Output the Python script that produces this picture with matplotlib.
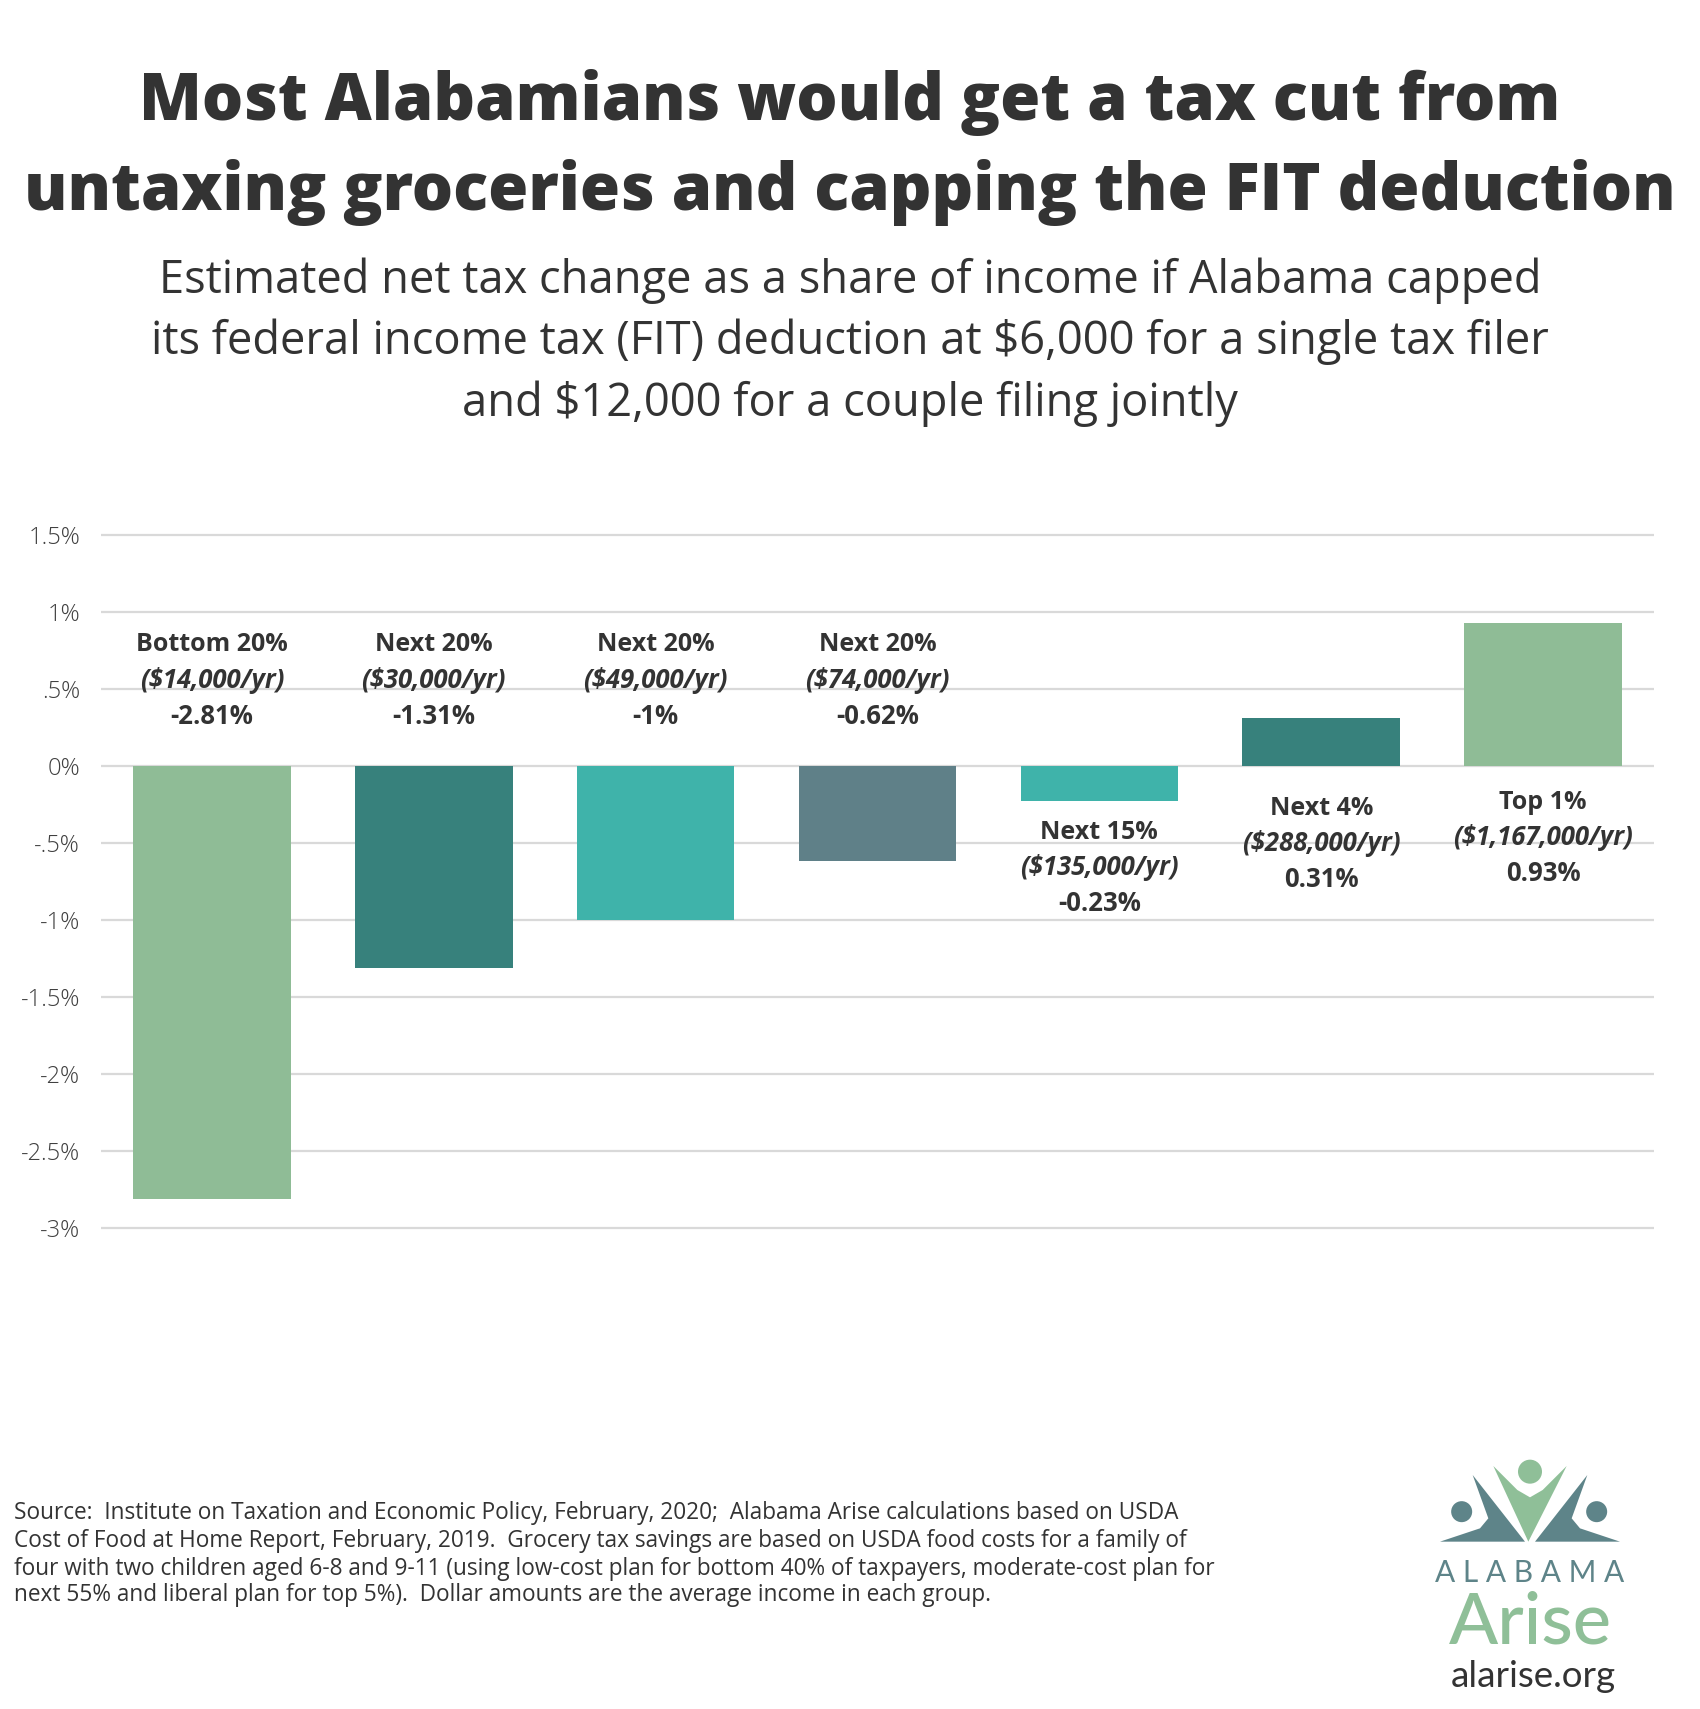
import numpy as np
import matplotlib.pyplot as plt
from matplotlib.patches import Polygon, Circle

plt.rcParams['font.family'] = ['Open Sans', 'DejaVu Sans']

# ---- data ----
groups = ["Bottom 20%", "Next 20%", "Next 20%", "Next 20%", "Next 15%", "Next 4%", "Top 1%"]
incomes = ["$14,000", "$30,000", "$49,000", "$74,000", "$135,000", "$288,000", "$1,167,000"]
values = [-2.81, -1.31, -1.0, -0.62, -0.23, 0.31, 0.93]
value_text = ["-2.81%", "-1.31%", "-1%", "-0.62%", "-0.23%", "0.31%", "0.93%"]
yticks = [1.5, 1.0, 0.5, 0.0, -0.5, -1.0, -1.5, -2.0, -2.5, -3.0]
ytick_labels = ["1.5%", "1%", ".5%", "0%", "-.5%", "-1%", "-1.5%", "-2%", "-2.5%", "-3%"]

# ---- style ----
LGREEN = "#8fbc96"
DTEAL = "#37817c"
TEAL = "#3fb3aa"
SLATE = "#5f8088"
bar_colors = [LGREEN, DTEAL, TEAL, SLATE, TEAL, DTEAL, LGREEN]
# y of first label line (data units) for each bar
label_y = [0.786, 0.786, 0.786, 0.786, -0.429, -0.273, -0.234]
LINE_STEP = 0.232
TXT = "#333333"

W, H = 1700, 1709
fig = plt.figure(figsize=(W / 100, H / 100), dpi=100)

# axes placement (pixel based)
ymin, ymax = -3.05, 1.55
px_per_unit = 154
top_px = 766 - ymax * px_per_unit
bot_px = 766 - ymin * px_per_unit
ax = fig.add_axes([101 / W, 1 - bot_px / H, (1654 - 101) / W, (bot_px - top_px) / H])

x = np.arange(len(values))
ax.bar(x, values, width=0.71, color=bar_colors, zorder=2)
ax.set_xlim(-0.5, len(values) - 0.5)
ax.set_ylim(ymin, ymax)

for yv in yticks:
    ax.axhline(yv, color="#d9d9d9", lw=1.6, zorder=1)

ax.set_yticks(yticks)
ax.set_yticklabels(ytick_labels, fontsize=17, color="#404040", fontweight="light")
ax.tick_params(axis="y", length=0, pad=15)
ax.set_xticks([])
for s in ax.spines.values():
    s.set_visible(False)

for i in range(len(values)):
    y0 = label_y[i]
    ax.text(x[i], y0, groups[i], ha="center", va="center", fontsize=18,
            fontweight="bold", color=TXT)
    ax.text(x[i], y0 - LINE_STEP, f"({incomes[i]}/yr)", ha="center", va="center",
            fontsize=18.5, fontweight="bold", fontstyle="italic", color=TXT)
    ax.text(x[i], y0 - 2 * LINE_STEP, value_text[i], ha="center", va="center",
            fontsize=18.5, fontweight="bold", color=TXT)

# ---- titles ----
def fy(p):
    return 1 - p / H

fig.text(0.5, fy(103), "Most Alabamians would get a tax cut from", ha="center", va="center",
         fontsize=46.8, fontweight="heavy", color=TXT)
fig.text(0.5, fy(192), "untaxing groceries and capping the FIT deduction", ha="center", va="center",
         fontsize=46.8, fontweight="heavy", color=TXT)
sub = ["Estimated net tax change as a share of income if Alabama capped",
       "its federal income tax (FIT) deduction at $6,000 for a single tax filer",
       "and $12,000 for a couple filing jointly"]
for yy, s in zip([281, 342, 404], sub):
    fig.text(0.5, fy(yy), s, ha="center", va="center", fontsize=32.6, color=TXT)

# ---- source ----
src = ["Source:  Institute on Taxation and Economic Policy, February, 2020;  Alabama Arise calculations based on USDA",
       "Cost of Food at Home Report, February, 2019.  Grocery tax savings are based on USDA food costs for a family of",
       "four with two children aged 6-8 and 9-11 (using low-cost plan for bottom 40% of taxpayers, moderate-cost plan for",
       "next 55% and liberal plan for top 5%).  Dollar amounts are the average income in each group."]
for yy, s in zip([1513, 1541, 1569, 1595], src):
    fig.text(14 / W, fy(yy), s, ha="left", va="center", fontsize=16.3, color=TXT)

# ---- logo ----
lax = fig.add_axes([0, 0, 1, 1], zorder=5)
lax.set_xlim(0, W)
lax.set_ylim(H, 0)
lax.axis("off")
LDARK = "#5e8489"
LGRN = "#8fbf98"
ox, oy = 1380, 1440

def lp(pts):
    return [(ox + px / 3, oy + py / 3) for px, py in pts]

# green V
lax.add_patch(Polygon(lp([(340, 78), (412, 150), (450, 172), (488, 150), (560, 78), (445, 305)]),
                      closed=True, color=LGRN, lw=0))
lax.add_patch(Circle((ox + 450 / 3, oy + 95 / 3), 12, color=LGRN, lw=0))
# side figures
lax.add_patch(Polygon(lp([(278, 105), (435, 305), (180, 305), (300, 265), (325, 235)]),
                      closed=True, color=LDARK, lw=0))
lax.add_patch(Polygon(lp([(622, 105), (465, 305), (720, 305), (600, 265), (575, 235)]),
                      closed=True, color=LDARK, lw=0))
lax.add_patch(Circle((ox + 245 / 3, oy + 215 / 3), 10.5, color=LDARK, lw=0))
lax.add_patch(Circle((ox + 650 / 3, oy + 215 / 3), 10.5, color=LDARK, lw=0))
lax.text(ox + 450 / 3, oy + 400 / 3, "A L A B A M A", ha="center", va="center",
         fontsize=21.5, color=LDARK, family=["Lato", "DejaVu Sans"])
lax.text(ox + 450 / 3, oy + 550 / 3, "Arise", ha="center", va="center",
         fontsize=52, color=LGRN, family=["Lato", "DejaVu Sans"], fontweight="medium")
lax.text(ox + 460 / 3, oy + 710 / 3, "alarise.org", ha="center", va="center",
         fontsize=26.5, color=TXT, family=["Lato", "DejaVu Sans"])

fig.savefig("out.png", dpi=100, facecolor="white")
